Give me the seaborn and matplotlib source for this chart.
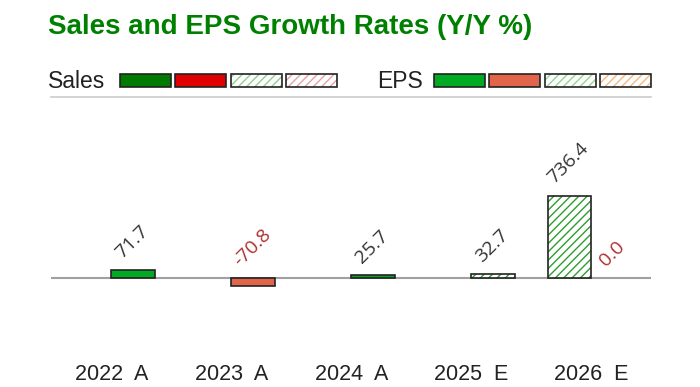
import matplotlib
matplotlib.use("Agg")
import matplotlib.pyplot as plt
from matplotlib.patches import Rectangle
import numpy as np
import pandas as pd
import seaborn as sns

# Data
years = ["2022  A", "2023  A", "2024  A", "2025  E", "2026  E"]
sales_growth = [np.nan, np.nan, np.nan, np.nan, 736.4]
eps_growth = [71.7, -70.8, 25.7, 32.7, 0.0]
series = ["Sales", "EPS"]

# Colours: [actual +, actual -, estimate +, estimate -]
sales_colors = ["#007A00", "#E00000", "#7FCB7F", "#E8A0A8"]
eps_colors = ["#00AA22", "#E0654A", "#7FD67F", "#F5B880"]
HATCH_EDGE = {"Sales": ["#2E9E2E", "#D87080"], "EPS": ["#2E9E2E", "#F0A060"]}

df = pd.DataFrame({
    "year": years * 2,
    "series": ["Sales"] * len(years) + ["EPS"] * len(years),
    "value": sales_growth + eps_growth,
})

sns.set_theme(style="white")
plt.rcParams["font.family"] = ["Liberation Sans", "DejaVu Sans"]
plt.rcParams["hatch.linewidth"] = 1.0

fig = plt.figure(figsize=(7, 3.87), dpi=100)
W, H = 700, 387
ax = fig.add_axes([51.5 / W, 1 - 345 / H, 600 / W, (345 - 97) / H])

sns.barplot(
    data=df.dropna(), x="year", y="value", hue="series",
    order=years, hue_order=series, width=0.733, dodge=True,
    legend=False, ax=ax, errorbar=None,
)

# restyle bars (colour depends on sign and actual/estimate)
for p in list(ax.patches):
    h = p.get_height()
    if np.isnan(h):
        continue
    cx = p.get_x() + p.get_width() / 2
    cat = int(round(cx))
    ser = "Sales" if cx < cat else "EPS"
    est = years[cat].endswith("E")
    neg = h < 0
    cols = sales_colors if ser == "Sales" else eps_colors
    if h == 0:
        p.set_linewidth(0)
        p.set_facecolor("none")
    elif est:
        p.set_facecolor("white")
        p.set_hatch("////")
        p.set_edgecolor(HATCH_EDGE[ser][int(neg)])
        p.set_linewidth(0)
        ax.add_patch(Rectangle(p.get_xy(), p.get_width(), h, facecolor="none",
                               edgecolor="#222222", linewidth=1.2, zorder=p.get_zorder() + 0.1))
    else:
        p.set_facecolor(cols[int(neg)])
        p.set_edgecolor("#222222")
        p.set_linewidth(1.2)
    # value label
    ax.annotate(f"{h:.1f}", (cx, max(h, 0)), xytext=(-1, 6), textcoords="offset points",
                rotation=45, ha="center", va="bottom", fontsize=14,
                family=["Open Sans", "DejaVu Sans"],
                color="#333333" if h > 0 else "#B03030")

ax.axhline(0, color="#A0A0A0", linewidth=1.5, zorder=0.5)
ax.set_xlim(-0.5, 4.5)
ax.set_ylim(-598, 1616)
ax.set_yticks([])
ax.set_xlabel("")
ax.set_ylabel("")
ax.tick_params(axis="x", length=0, pad=14, labelsize=15.5, labelcolor="#222222")
for side in ["left", "right", "bottom"]:
    ax.spines[side].set_visible(False)
ax.spines["top"].set_color("#CCCCCC")
ax.spines["top"].set_linewidth(1.2)

# title
fig.text(48 / W, 1 - 27 / H, "Sales and EPS Growth Rates (Y/Y %)", color="#008000",
         fontsize=20, fontweight="bold", va="center", ha="left")

# legend row drawn by hand
def legend_row(label, x_text, x_box0, colors, hatch_edges):
    fig.text(x_text / W, 1 - 81 / H, label, fontsize=16.5, va="center", ha="left", color="#222222")
    for i, c in enumerate(colors):
        x0 = x_box0 + i * 55.5
        if i < 2:
            r = Rectangle((x0 / W, 1 - 87 / H), 51 / W, 13 / H, transform=fig.transFigure,
                          facecolor=c, edgecolor="#222222", linewidth=1.2)
            fig.patches.append(r)
        else:
            r = Rectangle((x0 / W, 1 - 87 / H), 51 / W, 13 / H, transform=fig.transFigure,
                          facecolor="white", edgecolor=hatch_edges[i - 2], hatch="////", linewidth=0)
            fig.patches.append(r)
            fig.patches.append(Rectangle((x0 / W, 1 - 87 / H), 51 / W, 13 / H,
                                         transform=fig.transFigure, facecolor="none",
                                         edgecolor="#222222", linewidth=1.2))

legend_row("Sales", 48, 119.5, sales_colors, ["#8FD08F", "#E8A0A8"])
legend_row("EPS", 377, 433.5, eps_colors, ["#8FD88F", "#F5B880"])

fig.savefig("out.png", dpi=100)
